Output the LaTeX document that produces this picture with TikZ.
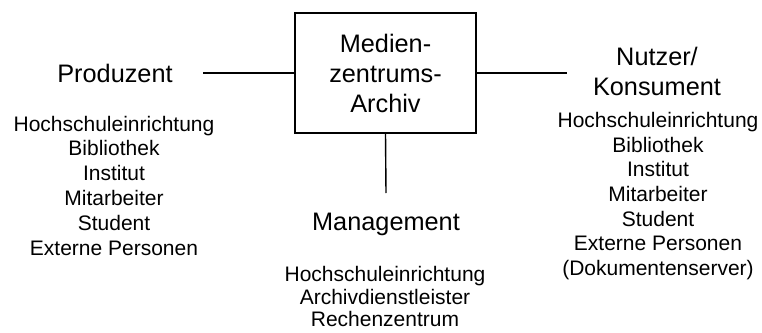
\documentclass[tikz,border=0pt]{standalone}
\usepackage{fontspec}
\setmainfont{Liberation Sans}
\begin{document}
\begin{tikzpicture}[x=1pt,y=-1pt,
  % multi-line nodes sit on the baseline of their last line
  big/.style={font=\fontsize{25.3}{30}\selectfont, align=center, inner sep=0pt, anchor=base},
  small/.style={font=\fontsize{21}{#1}\selectfont, align=center, inner sep=0pt, anchor=base},
  small/.default=24.8,
  wire/.style={line width=1.4pt},
  archivebox/.style={draw, line width=1.4pt, minimum width=181pt, minimum height=120pt,
    inner sep=0pt, align=center, font=\fontsize{25.3}{30}\selectfont}]
\useasboundingbox (0,0) rectangle (762,332);

% central archive box
\node[archivebox] (archiv) at (385.5,73) {Medien-\\zentrums-\\Archiv};

% producer side
\node[big] (prod) at (115,82) {Produzent};
\node[small] (prodlist) at (114,255) {Hochschuleinrichtung\\Bibliothek\\Institut\\Mitarbeiter\\Student\\Externe Personen};

% consumer side
\node[big] (nutzer) at (657,95) {Nutzer/\\Konsument};
\node[small=24.7] (nutzlist) at (658,275.5) {Hochschuleinrichtung\\Bibliothek\\Institut\\Mitarbeiter\\Student\\Externe Personen\\(Dokumentenserver)};

% management
\node[big] (mgmt) at (386,230) {Management};
\node[small=22.6] (mgmtlist) at (385,326.7) {Hochschuleinrichtung\\Archivdienstleister\\Rechenzentrum};

% connector ends
\coordinate (pl) at (203,73);
\coordinate (nr) at (567,73);
\coordinate (mb) at (386,193);

\draw[wire] (archiv.west) -- (pl);
\draw[wire] (archiv.east) -- (nr);
\draw[wire] (archiv.south) -- (mb);
\end{tikzpicture}
\end{document}
